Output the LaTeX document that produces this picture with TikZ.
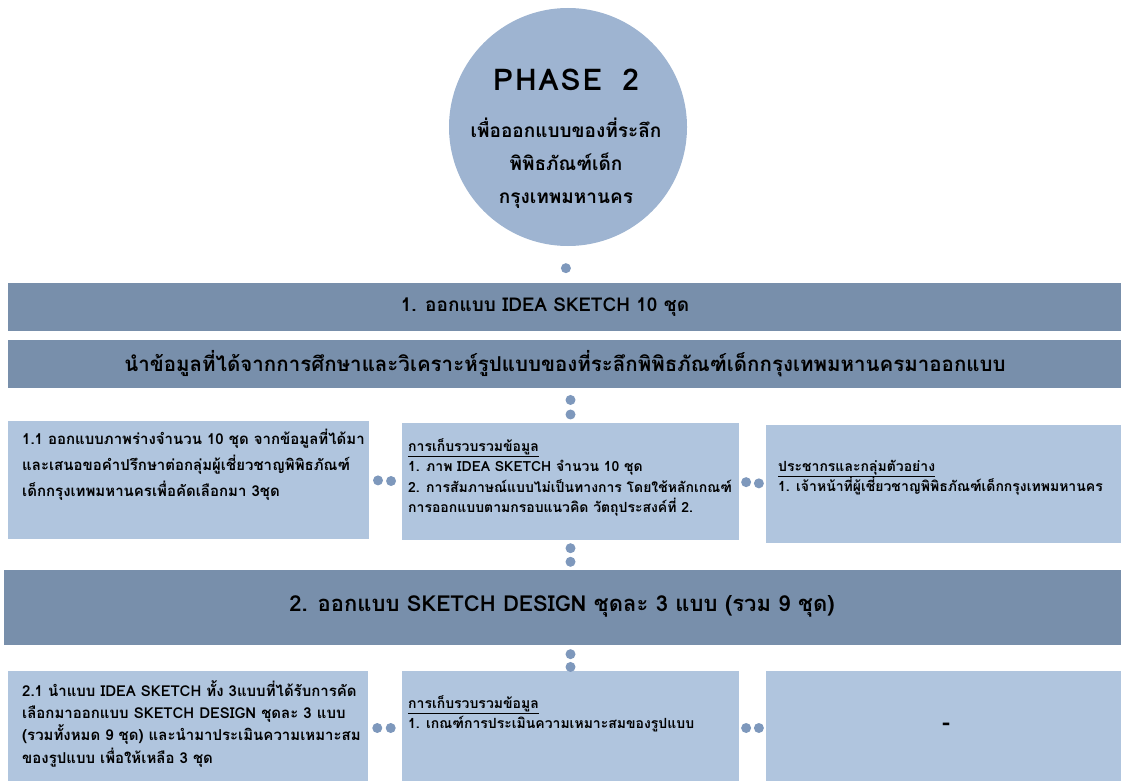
\documentclass[tikz,border=0pt]{standalone}
\usepackage{fontspec}
\newfontfamily\thai[Script=Thai]{Loma}
\definecolor{circ}{RGB}{158,180,209}
\definecolor{barc}{RGB}{120,143,171}
\definecolor{boxc}{RGB}{176,197,222}
\definecolor{dotc}{RGB}{126,152,188}
\begin{document}
\begin{tikzpicture}[x=1pt,y=-1pt,
  bar/.style={rectangle, fill=barc, inner sep=0pt, minimum width=1113pt},
  infobox/.style={rectangle, fill=boxc, inner sep=0pt},
  dot/.style={circle, fill=dotc, inner sep=0pt, minimum size=10pt},
  boxtext/.style={anchor=north west, inner sep=0pt, align=left, font=\thai\bfseries\fontsize{15}{26}\selectfont},
  boxtextb/.style={anchor=north west, inner sep=0pt, align=left, font=\thai\bfseries\fontsize{14}{20.5}\selectfont},
  bartext/.style={inner sep=0pt, font=\thai\bfseries\fontsize{19}{22}\selectfont}]
\useasboundingbox (0,0) rectangle (1121,781);
% circle
\node[circle, fill=circ, minimum size=238pt, inner sep=0pt] (phase) at (568,127) {};
\node[inner sep=0pt, font=\thai\bfseries\fontsize{30}{34}\selectfont] (phasetitle) at (566,80) {P\kern2pt H\kern2pt A\kern2pt S\kern2pt E\ \ 2};
\node[inner sep=0pt, align=center, font=\thai\bfseries\fontsize{19}{33}\selectfont] (phasesub) at (566,163) {เพื่อออกแบบของที่ระลึก\\พิพิธภัณฑ์เด็ก\\กรุงเทพมหานคร};
% bars
\node[bar, minimum height=48pt] (bar1) at (564.5,307) {};
\node[bartext] (bar1t) at (545,307) {1. ออกแบบ IDEA SKETCH 10 ชุด};
\node[bar, minimum height=48pt] (bar2) at (564.5,364) {};
\node[bartext, font=\thai\bfseries\fontsize{20.5}{24}\selectfont] (bar2t) at (565,364) {นำข้อมูลที่ได้จากการศึกษาและวิเคราะห์รูปแบบของที่ระลึกพิพิธภัณฑ์เด็กกรุงเทพมหานครมาออกแบบ};
\node[bar, minimum width=1117pt, minimum height=75pt] (bar3) at (562.5,607.5) {};
\node[bartext, font=\thai\bfseries\fontsize{22}{25}\selectfont] (bar3t) at (562,606) {2. ออกแบบ SKETCH DESIGN ชุดละ 3 แบบ (รวม 9 ชุด)};
% row 1
\node[infobox, minimum width=361pt, minimum height=118pt] (boxA) at (188.5,480) {};
\node[infobox, minimum width=337pt, minimum height=117pt] (boxB) at (570.5,481.5) {};
\node[infobox, minimum width=360pt, minimum height=118pt] (boxC) at (946,484) {};
\node[boxtext] (boxAt) at (22,429) {1.1 ออกแบบภาพร่างจำนวน 10 ชุด จากข้อมูลที่ได้มา\\และเสนอขอคำปรึกษาต่อกลุ่มผู้เชี่ยวชาญพิพิธภัณฑ์\\เด็กกรุงเทพมหานครเพื่อคัดเลือกมา 3ชุด};
\node[boxtextb] (boxBt) at (408,438) {\underline{การเก็บรวบรวมข้อมูล}\\1. ภาพ IDEA SKETCH จำนวน 10 ชุด\\2. การสัมภาษณ์แบบไม่เป็นทางการ โดยใช้หลักเกณฑ์\\การออกแบบตามกรอบแนวคิด วัตถุประสงค์ที่ 2.};
\node[boxtextb] (boxCt) at (778,460) {\underline{ประชากรและกลุ่มตัวอย่าง}\\1. เจ้าหน้าที่ผู้เชี่ยวชาญพิพิธภัณฑ์เด็กกรุงเทพมหานคร};
% row 2
\node[infobox, minimum width=360pt, minimum height=114pt] (boxA2) at (188,728) {};
\node[infobox, minimum width=337pt, minimum height=114pt] (boxB2) at (570.5,728) {};
\node[infobox, minimum width=360pt, minimum height=114pt] (boxC2) at (946,728) {};
\node[boxtext, font=\thai\bfseries\fontsize{15}{22.3}\selectfont] (boxA2t) at (22,680) {2.1 นำแบบ IDEA SKETCH ทั้ง 3แบบที่ได้รับการคัด\\เลือกมาออกแบบ SKETCH DESIGN ชุดละ 3 แบบ\\(รวมทั้งหมด 9 ชุด) และนำมาประเมินความเหมาะสม\\ของรูปแบบ เพื่อให้เหลือ 3 ชุด};
\node[boxtextb] (boxB2t) at (408,695) {\underline{การเก็บรวบรวมข้อมูล}\\1. เกณฑ์การประเมินความเหมาะสมของรูปแบบ};
\node[inner sep=0pt, font=\thai\bfseries\fontsize{24}{26}\selectfont] (boxC2t) at (946,727) {-};
% dot connectors
\path (phase.south) -- (bar1.north) node[dot, pos=0.6] (d0) {};
\path (bar2.south -| boxB.north) -- (boxB.north) node[dot, pos=0.34] (d1) {} node[dot, pos=0.76] (d2) {};
\path (boxA.east) -- (boxB.west) node[dot, pos=0.27] (d3) {} node[dot, pos=0.67] (d4) {};
\path (boxB.east) -- (boxC.west) node[dot, pos=0.26] (d5) {} node[dot, pos=0.74] (d6) {};
\path (boxB.south) -- (bar3.north -| boxB.south) node[dot, pos=0.27] (d7) {} node[dot, pos=0.73] (d8) {};
\path (bar3.south -| boxB2.north) -- (boxB2.north) node[dot, pos=0.35] (d9) {} node[dot, pos=0.85] (d10) {};
\path (boxA2.east) -- (boxB2.west) node[dot, pos=0.27] (d11) {} node[dot, pos=0.67] (d12) {};
\path (boxB2.east) -- (boxC2.west) node[dot, pos=0.26] (d13) {} node[dot, pos=0.74] (d14) {};
\end{tikzpicture}
\end{document}
